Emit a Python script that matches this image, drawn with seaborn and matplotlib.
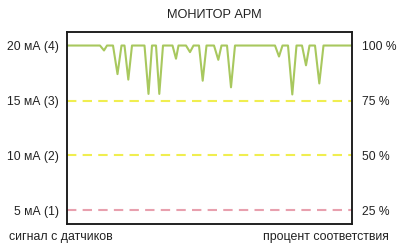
import matplotlib
matplotlib.use("Agg")
import matplotlib.pyplot as plt
import seaborn as sns
import pandas as pd

# signal trace (time index, current in mA)
time_idx = [0, 33, 37, 40, 46, 50.5, 54.5, 57.5, 61.3, 65, 77.5, 81.5, 85, 89, 92.3, 96,
            105.5, 109, 111.5, 119, 123, 126.5, 132, 135.7, 139.5, 147, 151.3, 154.5,
            160, 164, 168, 208, 212, 215.5, 221, 225.3, 229.5, 235, 239, 242.5, 248,
            252.3, 256.5, 285]
signal_ma = [20, 20, 19.55, 20, 20, 17.4, 20, 20, 16.9, 20, 20, 15.6, 20, 20, 15.6, 20,
             20, 18.8, 20, 20, 19.4, 20, 20, 16.8, 20, 20, 18.7, 20,
             20, 16.2, 20, 20, 19.0, 20, 20, 15.55, 20, 20, 18.2, 20, 20,
             16.55, 20, 20]

# reference levels
levels_ma = [20, 15, 10, 5]
left_labels = ["20 мА (4)", "15 мА (3)", "10 мА (2)", "5 мА (1)"]
right_labels = ["100 %", "75 %", "50 %", "25 %"]
ref_levels = [15, 10, 5]
ref_colors = ["#f0ee50", "#f0ee50", "#e8a0ae"]

title = "МОНИТОР АРМ"
left_caption = "сигнал с датчиков"
right_caption = "процент соответствия"

sns.set_style("white")
plt.rcParams["font.family"] = ["Liberation Sans", "DejaVu Sans"]

fig = plt.figure(figsize=(4.0, 2.46), dpi=100)
ax = fig.add_axes([67 / 400, 22 / 246, 285 / 400, 192 / 246])

t0, t1 = min(time_idx), max(time_idx)
for lvl, col in zip(ref_levels, ref_colors):
    ref = pd.DataFrame({"t": [t0, t1], "v": [lvl, lvl]})
    sns.lineplot(data=ref, x="t", y="v", ax=ax, color=col, linewidth=1.5,
                 dashes=False, linestyle=(0, (4.5, 3)))

df = pd.DataFrame({"t": time_idx, "v": signal_ma})
sns.lineplot(data=df, x="t", y="v", ax=ax, color="#a8c85e", linewidth=1.5,
             sort=False, estimator=None)

ax.set_xlim(t0, t1)
ax.set_ylim(3.77, 21.23)
ax.set_xlabel("")
ax.set_ylabel("")
ax.set_xticks([])
ax.set_yticks(levels_ma)
ax.set_yticklabels(left_labels, fontsize=8.7, color="#222222")
ax.tick_params(axis="y", length=0, pad=6)

ax2 = ax.twinx()
ax2.set_ylim(ax.get_ylim())
ax2.set_yticks(levels_ma)
ax2.set_yticklabels(right_labels, fontsize=8.7, color="#222222")
ax2.tick_params(axis="y", length=0, pad=7)

for a in (ax, ax2):
    for s in a.spines.values():
        s.set_visible(True)
        s.set_color("#1a1a1a")
        s.set_linewidth(1.1)

fig.text(214 / 400, 1 - 15 / 246, title, ha="center", va="center",
         fontsize=9.2, color="#222222")
fig.text(9 / 400, 1 - 237 / 246, left_caption, ha="left", va="center",
         fontsize=8.9, color="#222222")
fig.text(389 / 400, 1 - 237 / 246, right_caption, ha="right", va="center",
         fontsize=8.9, color="#222222")

fig.savefig("out.png", dpi=100)
